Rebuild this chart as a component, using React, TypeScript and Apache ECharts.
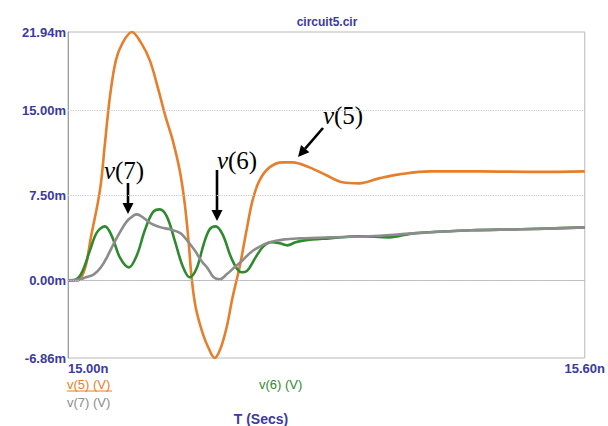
import React, { useEffect, useRef } from "react";
import * as echarts from "echarts";

// Time in ns, voltages in mV
const v5Time = [15.0, 15.0116, 15.0151, 15.0208, 15.0266, 15.0371, 15.0429, 15.0486, 15.0556, 15.0637, 15.0741, 15.0846, 15.095, 15.1042, 15.1135, 15.1216, 15.1297, 15.1355, 15.1402, 15.1436, 15.1483, 15.1564, 15.1633, 15.1703, 15.1772, 15.1842, 15.1911, 15.1992, 15.2073, 15.2143, 15.2224, 15.234, 15.249, 15.2606, 15.2803, 15.3, 15.3185, 15.3382, 15.3614, 15.3846, 15.4205, 15.4772, 15.5467, 15.6];
const v5Values = [0, 0, 0.18, 1.33, 3.8, 7.95, 12.1, 16.17, 19.43, 21.02, 21.94, 21.02, 19.43, 17.05, 14.4, 12.37, 9.72, 6.8, 3.27, 0.18, -2.39, -4.68, -6.0, -6.86, -6.0, -4.15, -1.5, 1.15, 4.42, 7.07, 8.83, 9.98, 10.42, 10.42, 9.98, 9.28, 8.66, 8.57, 9.01, 9.36, 9.63, 9.63, 9.58, 9.63];

const v6Time = [15.0, 15.0093, 15.0162, 15.0255, 15.0336, 15.0429, 15.051, 15.0602, 15.0707, 15.0799, 15.0892, 15.0985, 15.1066, 15.1147, 15.1239, 15.1332, 15.1413, 15.1494, 15.1575, 15.1645, 15.1714, 15.1795, 15.1888, 15.1958, 15.2015, 15.2085, 15.2178, 15.227, 15.2363, 15.2456, 15.2548, 15.2641, 15.2745, 15.3035, 15.3382, 15.373, 15.4008, 15.468, 15.5259, 15.6];
const v6Values = [0, 0.09, 0.71, 2.65, 4.24, 4.77, 3.89, 2.03, 1.15, 2.21, 4.42, 6.01, 6.27, 5.65, 3.53, 1.24, 0.27, 1.06, 3.18, 4.51, 4.77, 4.06, 2.12, 1.06, 0.71, 0.88, 2.03, 3.0, 3.36, 3.27, 3.09, 3.36, 3.53, 3.71, 3.89, 3.8, 4.15, 4.42, 4.51, 4.68];

const v7Time = [15.0, 15.0116, 15.0208, 15.0301, 15.0382, 15.0463, 15.0533, 15.0602, 15.0683, 15.0764, 15.08, 15.0869, 15.0961, 15.1077, 15.1181, 15.1309, 15.139, 15.1471, 15.1552, 15.1622, 15.1691, 15.1761, 15.1842, 15.1934, 15.2027, 15.212, 15.2212, 15.234, 15.2514, 15.2687, 15.3035, 15.3498, 15.4008, 15.468, 15.5259, 15.6];
const v7Values = [0, 0.04, 0.27, 0.53, 1.15, 2.21, 3.27, 4.24, 5.21, 5.74, 5.83, 5.57, 5.04, 4.68, 4.51, 4.15, 3.45, 2.65, 1.68, 1.06, 0.27, 0.09, 0.53, 1.15, 1.77, 2.47, 2.92, 3.36, 3.62, 3.71, 3.8, 3.89, 4.15, 4.42, 4.51, 4.68];

const yTickValues = [-6.86, 0, 7.5, 15, 21.94];
const xTickValues = [15.0, 15.6];
const gridLineValues = [0, 7.5, 15];

const seriesNames = ["v(5) (V)", "v(6) (V)", "v(7) (V)"];
const title = "circuit5.cir";
const xAxisTitle = "T (Secs)";
const annotationLabels = ["v", "(7)", "v", "(6)", "v", "(5)"];

const ORANGE = "#e57f2c";
const GREEN = "#2f8a2f";
const GRAY = "#8c8c8c";
const BLUE = "#3a3aa0";

const pair = (t: number[], v: number[]) => t.map((x, i) => [x, v[i]]);

function arrow(x1: number, y1: number, x2: number, y2: number) {
  const dx = x2 - x1;
  const dy = y2 - y1;
  const len = Math.sqrt(dx * dx + dy * dy);
  const ux = dx / len;
  const uy = dy / len;
  const hl = 11;
  const hw = 5.5;
  const bx = x2 - ux * hl;
  const by = y2 - uy * hl;
  return [
    {
      type: "line",
      shape: { x1, y1, x2: bx, y2: by },
      style: { stroke: "#000", lineWidth: 2.6 },
    },
    {
      type: "polygon",
      shape: {
        points: [
          [x2, y2],
          [bx - uy * hw, by + ux * hw],
          [bx + uy * hw, by - ux * hw],
        ],
      },
      style: { fill: "#000" },
    },
  ];
}

function annot(cx: number, cy: number, v: string, num: string) {
  return {
    type: "text",
    x: cx,
    y: cy,
    style: {
      text: `{i|${v}}{n|${num}}`,
      align: "center",
      verticalAlign: "middle",
      rich: {
        i: { fontFamily: "Liberation Serif", fontStyle: "italic", fontSize: 25, fill: "#000" },
        n: { fontFamily: "Liberation Serif", fontSize: 25, fill: "#000" },
      },
    },
  };
}

export default function App() {
  const ref = useRef<HTMLDivElement>(null);
  useEffect(() => {
    if (!ref.current) return;
    const chart = echarts.init(ref.current, null, { renderer: "svg" });
    const font = "Liberation Sans";
    chart.setOption({
      animation: false,
      backgroundColor: "#fff",
      textStyle: { fontFamily: font },
      grid: {
        left: 68,
        top: 32,
        width: 518,
        height: 326,
        show: true,
        borderColor: "#b8b8b8",
        borderWidth: 1,
        backgroundColor: "#fff",
      },
      xAxis: {
        type: "value",
        min: 15.0,
        max: 15.6,
        axisLine: { show: true, lineStyle: { color: "#b8b8b8" } },
        axisTick: { show: false },
        splitLine: { show: false },
        axisLabel: {
          customValues: xTickValues,
          formatter: (v: number) => v.toFixed(2) + "n",
          color: BLUE,
          fontSize: 13,
          fontWeight: "bold",
          fontFamily: font,
          margin: 4,
          alignMinLabel: "left",
          alignMaxLabel: "center",
        },
      },
      yAxis: {
        type: "value",
        min: -6.86,
        max: 21.94,
        axisLine: { show: true, lineStyle: { color: "#a0a0a0" } },
        axisTick: { show: false },
        splitLine: { show: false },
        axisLabel: {
          customValues: yTickValues,
          formatter: (v: number) => v.toFixed(2) + "m",
          color: BLUE,
          fontSize: 13,
          fontWeight: "bold",
          fontFamily: font,
          margin: 2,
        },
      },
      series: [
        {
          type: "line",
          data: [[15.0, 0]],
          symbol: "none",
          lineStyle: { width: 0 },
          silent: true,
          z: 1,
          markLine: {
            silent: true,
            symbol: ["none", "none"],
            label: { show: false },
            lineStyle: { type: "dotted", color: "#c6c6d0", width: 1.2 },
            data: gridLineValues.map((y) => ({ yAxis: y })),
          },
        },
        {
          name: seriesNames[0],
          type: "line",
          data: pair(v5Time, v5Values),
          symbol: "none",
          smooth: 0.35,
          lineStyle: { color: ORANGE, width: 2.6 },
          z: 2,
        },
        {
          name: seriesNames[1],
          type: "line",
          data: pair(v6Time, v6Values),
          symbol: "none",
          smooth: 0.35,
          lineStyle: { color: GREEN, width: 2.6 },
          z: 3,
        },
        {
          name: seriesNames[2],
          type: "line",
          data: pair(v7Time, v7Values),
          symbol: "none",
          smooth: 0.35,
          lineStyle: { color: GRAY, width: 2.6 },
          z: 4,
        },
      ],
      graphic: [
        {
          type: "text",
          x: 327,
          y: 22,
          style: { text: title, fill: BLUE, font: `bold 12px ${font}`, align: "center", verticalAlign: "middle" },
        },
        {
          type: "text",
          x: 67,
          y: 384,
          style: { text: seriesNames[0], fill: ORANGE, font: `13px ${font}`, align: "left", verticalAlign: "middle" },
        },
        {
          type: "line",
          shape: { x1: 67, y1: 391, x2: 112, y2: 391 },
          style: { stroke: ORANGE, lineWidth: 1 },
        },
        {
          type: "text",
          x: 67,
          y: 402,
          style: { text: seriesNames[2], fill: GRAY, font: `13px ${font}`, align: "left", verticalAlign: "middle" },
        },
        {
          type: "text",
          x: 259,
          y: 384,
          style: { text: seriesNames[1], fill: GREEN, font: `13px ${font}`, align: "left", verticalAlign: "middle" },
        },
        {
          type: "text",
          x: 261,
          y: 419,
          style: { text: xAxisTitle, fill: BLUE, font: `bold 14px ${font}`, align: "center", verticalAlign: "middle" },
        },
        annot(124, 170, annotationLabels[0], annotationLabels[1]),
        annot(237, 160, annotationLabels[2], annotationLabels[3]),
        annot(343, 115, annotationLabels[4], annotationLabels[5]),
        ...arrow(128, 183, 128, 214),
        ...arrow(217, 170, 217, 221),
        ...arrow(323, 128, 298, 157),
      ],
    });
    return () => chart.dispose();
  }, []);
  return (
    <div
      ref={ref}
      style={{ position: "fixed", left: 0, top: 0, width: 608, height: 426, background: "#fff" }}
    />
  );
}
